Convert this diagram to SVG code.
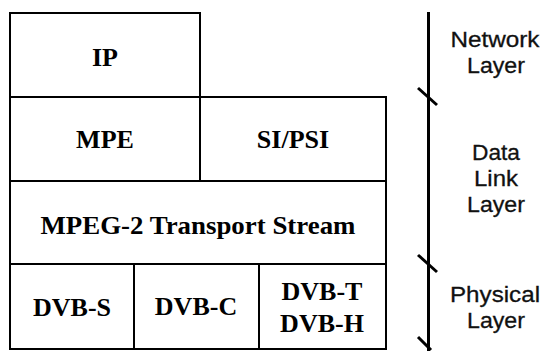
<svg xmlns="http://www.w3.org/2000/svg" width="545" height="353" viewBox="0 0 545 353">
<style>
.box{fill:#fff;stroke:#000;stroke-width:2}
.lbl{font-family:"Liberation Serif","Times New Roman",serif;font-weight:bold;font-size:26px;text-anchor:middle;fill:#000}
.lay{font-family:"Liberation Sans",Arial,sans-serif;font-size:22px;text-anchor:middle;fill:#111;stroke:#111;stroke-width:0.3}
.ln{stroke:#000;stroke-width:3;fill:none}
</style>
<rect width="545" height="353" fill="#fff"/>
<g id="ip"><rect class="box" x="10" y="13" width="190" height="84"/><text class="lbl" x="105" y="66">IP</text></g>
<g id="mpe"><rect class="box" x="10" y="97" width="190" height="84"/><text class="lbl" x="105" y="148">MPE</text></g>
<g id="sipsi"><rect class="box" x="200" y="97" width="186" height="84"/><text class="lbl" x="293" y="148">SI/PSI</text></g>
<g id="mpeg2"><rect class="box" x="10" y="181" width="376" height="83"/><text class="lbl" x="198" y="234" textLength="315" lengthAdjust="spacingAndGlyphs">MPEG-2 Transport Stream</text></g>
<g id="dvbs"><rect class="box" x="10" y="264" width="124" height="85"/><text class="lbl" x="72" y="316">DVB-S</text></g>
<g id="dvbc"><rect class="box" x="134" y="264" width="125" height="85"/><text class="lbl" x="196" y="315">DVB-C</text></g>
<g id="dvbt"><rect class="box" x="259" y="264" width="127" height="85"/><text class="lbl" x="322" y="300">DVB-T</text><text class="lbl" x="322" y="332">DVB-H</text></g>
<g id="connectors">
<line class="ln" x1="428.5" y1="12" x2="428.5" y2="351"/>
<line class="ln" x1="418" y1="88" x2="437" y2="105"/>
<line class="ln" x1="418" y1="255" x2="437" y2="272"/>
<line class="ln" x1="418" y1="337" x2="431" y2="350"/>
</g>
<g id="network"><text class="lay" x="495" y="47" textLength="89" lengthAdjust="spacingAndGlyphs">Network</text><text class="lay" x="496" y="73" textLength="58" lengthAdjust="spacingAndGlyphs">Layer</text></g>
<g id="datalink"><text class="lay" x="496" y="159.5" textLength="48" lengthAdjust="spacingAndGlyphs">Data</text><text class="lay" x="496" y="186" textLength="44" lengthAdjust="spacingAndGlyphs">Link</text><text class="lay" x="496" y="212" textLength="58" lengthAdjust="spacingAndGlyphs">Layer</text></g>
<g id="physical"><text class="lay" x="495" y="302" textLength="90" lengthAdjust="spacingAndGlyphs">Physical</text><text class="lay" x="496" y="328" textLength="58" lengthAdjust="spacingAndGlyphs">Layer</text></g>
</svg>
